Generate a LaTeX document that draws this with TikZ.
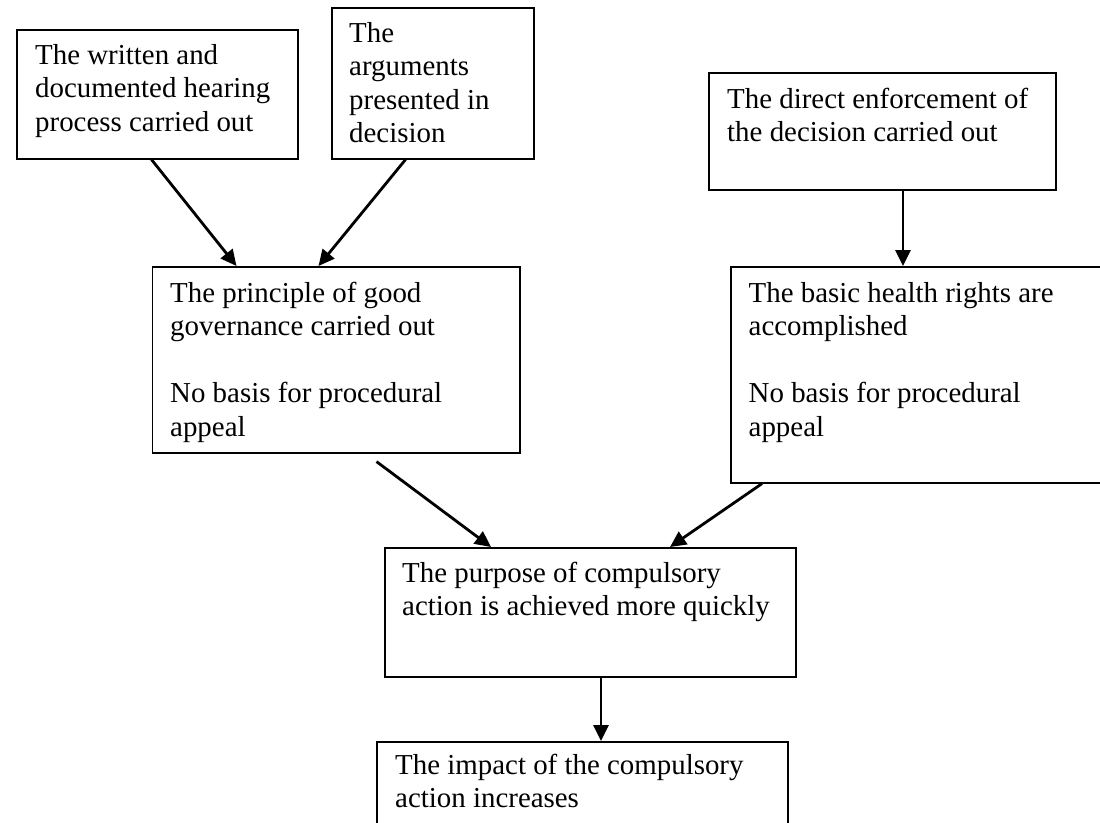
\documentclass[tikz,border=0pt]{standalone}
\usepackage{fontspec}
\setmainfont{Liberation Serif}
\usetikzlibrary{arrows.meta,calc}
\begin{document}
\begin{tikzpicture}[x=1pt,y=-1pt,
  box/.style={draw=black, line width=1.6pt, inner sep=0pt, anchor=north west},
  lbl/.style={inner sep=0pt, anchor=base west, font=\fontsize{28.9}{33.5}\selectfont},
  arr/.style={line width=2.8pt, -{Triangle[length=16pt,width=15pt]}}]
\useasboundingbox (0,0) rectangle (1100,822);
\fill[white] (0,0) rectangle (1100,822);
\clip (0,0) rectangle (1100,822);
% boxes
\node[box, minimum width=281pt, minimum height=129pt] (b1) at (16,29) {};
\node[box, minimum width=202pt, minimum height=151pt] (b2) at (331,7) {};
\node[box, minimum width=347pt, minimum height=117pt] (b3) at (708,72) {};
\node[box, minimum width=367.5pt, minimum height=186pt] (b4) at (151.5,266) {};
\node[box, minimum width=380pt, minimum height=216pt] (b5) at (730,266) {};
\node[box, minimum width=411pt, minimum height=129pt] (b6) at (384,547) {};
\node[box, minimum width=411pt, minimum height=95pt] (b7) at (376,741) {};
% texts
\node[lbl] (t1) at (35,64) {\begin{tabular}[t]{@{}l@{}}The written and\\documented hearing\\process carried out\end{tabular}};
\node[lbl] (t2) at (349,42) {\begin{tabular}[t]{@{}l@{}}The\\arguments\\presented in\\decision\end{tabular}};
\node[lbl] (t3) at (727,108) {\begin{tabular}[t]{@{}l@{}}The direct enforcement of\\the decision carried out\end{tabular}};
\node[lbl] (t4) at (170,302) {\begin{tabular}[t]{@{}l@{}}The principle of good\\governance carried out\\ \\No basis for procedural\\appeal\end{tabular}};
\node[lbl] (t5) at (748.5,302) {\begin{tabular}[t]{@{}l@{}}The basic health rights are\\accomplished\\ \\No basis for procedural\\appeal\end{tabular}};
\node[lbl] (t6) at (402,582) {\begin{tabular}[t]{@{}l@{}}The purpose of compulsory\\action is achieved more quickly\end{tabular}};
\node[lbl] (t7) at (395,774) {\begin{tabular}[t]{@{}l@{}}The impact of the compulsory\\action increases\end{tabular}};
% arrows
\draw[arr] ($(b1.south west)+(135.5,0)$) -- ($(b4.north west)+(85,0)$);
\draw[arr] ($(b2.south west)+(74.5,0)$) -- ($(b4.north west)+(167,0)$);
\draw[arr] ($(b3.south west)+(195,0)$) -- ($(b5.north west)+(173,0)$);
\draw[arr] ($(b4.south west)+(225,8)$) -- ($(b6.north west)+(107,0)$);
\draw[arr] ($(b5.south west)+(32,0)$) -- ($(b6.north west)+(286,0)$);
\draw[arr] ($(b6.south west)+(217,0)$) -- ($(b7.north west)+(225,0)$);
\end{tikzpicture}
\end{document}
